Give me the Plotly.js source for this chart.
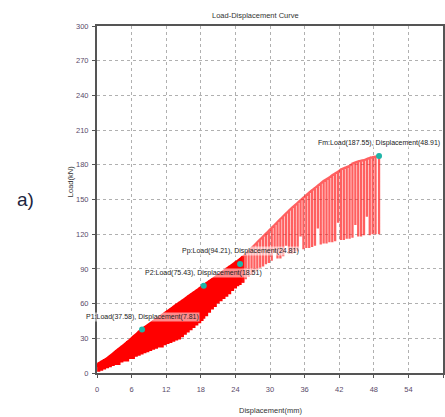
<!DOCTYPE html>
<html>
<head>
<meta charset="utf-8">
<script src="https://cdn.plot.ly/plotly-3.0.1.min.js"></script>
<style>html,body{margin:0;padding:0;background:#fff;}#chart{width:445px;height:417px;}</style>
</head>
<body>
<div id="chart"></div>
<script>
// Cyclic load-displacement record: each cycle peaks on the loading envelope and unloads to a valley
const startDisp = 0;
const startLoad = 5;
const peakDisp = [0.3,0.8,1.3,1.8,2.3,2.8,3.3,3.8,4.3,4.8,5.3,5.8,6.3,6.8,7.3,7.8,8.3,8.8,9.3,9.8,
  10.3,10.8,11.3,11.8,12.3,12.8,13.3,13.8,14.3,14.8,15.3,15.8,16.3,16.8,17.3,17.8,18.2,18.51,19.0,19.5,20.0,
  20.5,21.0,21.5,22.0,22.5,23.0,23.5,24.0,24.4,24.81,25.3,25.8,26.3,26.8,27.3,27.8,28.3,28.8,29.3,29.8,
  30.3,30.8,31.3,31.8,32.3,32.8,33.3,33.8,34.3,34.8,35.3,35.8,36.3,36.8,37.3,37.8,38.3,38.8,39.3,39.8,
  40.3,40.8,41.3,41.8,42.3,42.8,43.3,43.8,44.3,44.8,45.3,45.8,46.3,46.8,47.3,47.8,48.3,48.91];
const peakLoad = [8,9.5,11,12.5,14.5,16.5,18.5,20.5,22.5,24.5,26.5,28.5,31,33,35.5,37.58,39.3,41,42.8,44.6,
  46.3,48,49.8,51.6,53.4,55.1,56.9,58.7,60.5,62.2,64,65.8,67.6,69.4,71.1,72.9,74.3,75.43,77.3,79,80.8,
  82.6,84.4,86.2,88,89.8,91.6,93.4,95.2,96.6,98,100.5,103,105.5,108,110.5,113,115.5,118,120.5,123,
  125.5,128,130.5,133,135.5,138,140.5,142.8,145,147.2,149.4,151.6,153.8,156,158,160,162,164,166,167.5,
  169,171,172.5,174,176,177,178,179,181,182,183,183.5,184,185,186,186.5,187,187.55];
const valleyLoad = [1,2,3,4,5,6,7,7,9,10,10,12,12,14,15,16,17,18,19,20,
  21,22,22,24,25,26,27,28,29,31,33,35,37,39,41,43,45,47,49,52,55,
  57,60,62,64,66,68,71,73,75,76,78,81,83,85,87,89,91,92,94,95,
  97,104,99,99,101,110,103,103,105,105,118,107,108,108,109,110,125,111,112,112,
  113,113,114,130,115,115,116,116,117,128,118,118,119,135,119,120,120,120];

// Marked characteristic points
const pointNames = ["P1","P2","Pp","Fm"];
const pointDisp = [7.81,18.51,24.81,48.91];
const pointLoad = [37.58,75.43,94.21,187.55];

// Axis ticks
const xTicks = [0,6,12,18,24,30,36,42,48,54,60];
const yTicks = [0,30,60,90,120,150,180,210,240,270,300];

// Each cycle: reach peak, unload to valley, reload to the same peak, then continue along envelope
function buildPath(from, to, withStart) {
  const px = [], py = [];
  if (withStart) { px.push(startDisp); py.push(startLoad); }
  for (let i = from; i < to; i++) {
    px.push(peakDisp[i], peakDisp[i], peakDisp[i]);
    py.push(peakLoad[i], valleyLoad[i], peakLoad[i]);
  }
  return {px, py};
}
const split = 51;
const a = buildPath(0, split + 1, true);
const b = buildPath(split, peakDisp.length, false);

const traces = [
  {x: a.px, y: a.py, type: 'scatter', mode: 'lines',
   line: {color: 'rgba(255,0,0,1)', width: 3.2}, hoverinfo: 'skip'},
  {x: b.px, y: b.py, type: 'scatter', mode: 'lines',
   line: {color: 'rgba(255,20,20,0.68)', width: 2.3}, hoverinfo: 'skip'},
  {x: pointDisp, y: pointLoad, type: 'scatter', mode: 'markers',
   marker: {color: '#1fb5a8', size: 6}, hoverinfo: 'skip'}
];

const ann = pointNames.map((n, i) => ({
  x: pointDisp[i], y: pointLoad[i], xref: 'x', yref: 'y',
  text: n + ':Load(' + pointLoad[i].toFixed(2) + '), Displacement(' + pointDisp[i].toFixed(2) + ')',
  showarrow: false, yshift: 13, font: {family: 'Liberation Sans, Arial', size: 7, color: '#222'},
  bgcolor: 'rgba(255,255,255,0.55)', borderpad: 0
}));
ann.push({text: 'Load-Displacement Curve', xref: 'paper', yref: 'paper', x: 0.457, y: 1, yshift: 11,
  xanchor: 'center', yanchor: 'middle',
  showarrow: false, font: {family: 'Liberation Sans, Arial', size: 7.5, color: '#333'}});
ann.push({text: 'Displacement(mm)', xref: 'paper', yref: 'paper', x: 0.5, y: 0, yshift: -37,
  xanchor: 'center', yanchor: 'middle',
  showarrow: false, font: {family: 'Liberation Sans, Arial', size: 7.5, color: '#333'}});
ann.push({text: 'Load(kN)', xref: 'paper', yref: 'paper', x: 0, xshift: -27, y: 0.55,
  xanchor: 'center', yanchor: 'middle',
  textangle: -90, showarrow: false, font: {family: 'Liberation Sans, Arial', size: 7.5, color: '#333'}});
ann.push({text: 'a)', xref: 'paper', yref: 'paper', x: 0, xshift: -72, y: 0.5,
  xanchor: 'center', yanchor: 'middle',
  showarrow: false, font: {family: 'Liberation Sans, Arial', size: 19, color: '#1c2540'}});

const axisCommon = {
  showgrid: true, gridcolor: '#b0b0b0', griddash: 'dot', gridwidth: 1,
  zeroline: false, showline: true, linecolor: '#555', linewidth: 2, mirror: true,
  ticks: 'outside', ticklen: 3, tickcolor: '#555',
  tickfont: {family: 'Liberation Sans, Arial', size: 7.5, color: '#5a4a6a'}
};

const layout = {
  width: 445, height: 417,
  margin: {l: 97, r: 2, t: 26, b: 44},
  paper_bgcolor: '#fff', plot_bgcolor: '#fff',
  showlegend: false,
  xaxis: Object.assign({}, axisCommon, {range: [0, 60], tickvals: xTicks, ticktext: xTicks.map(String), ticklabelstandoff: 5}),
  yaxis: Object.assign({}, axisCommon, {range: [0, 300], tickvals: yTicks, ticktext: yTicks.map(String), ticklabelstandoff: 2}),
  annotations: ann
};

Plotly.newPlot('chart', traces, layout, {staticPlot: true, displayModeBar: false});
</script>
</body>
</html>
